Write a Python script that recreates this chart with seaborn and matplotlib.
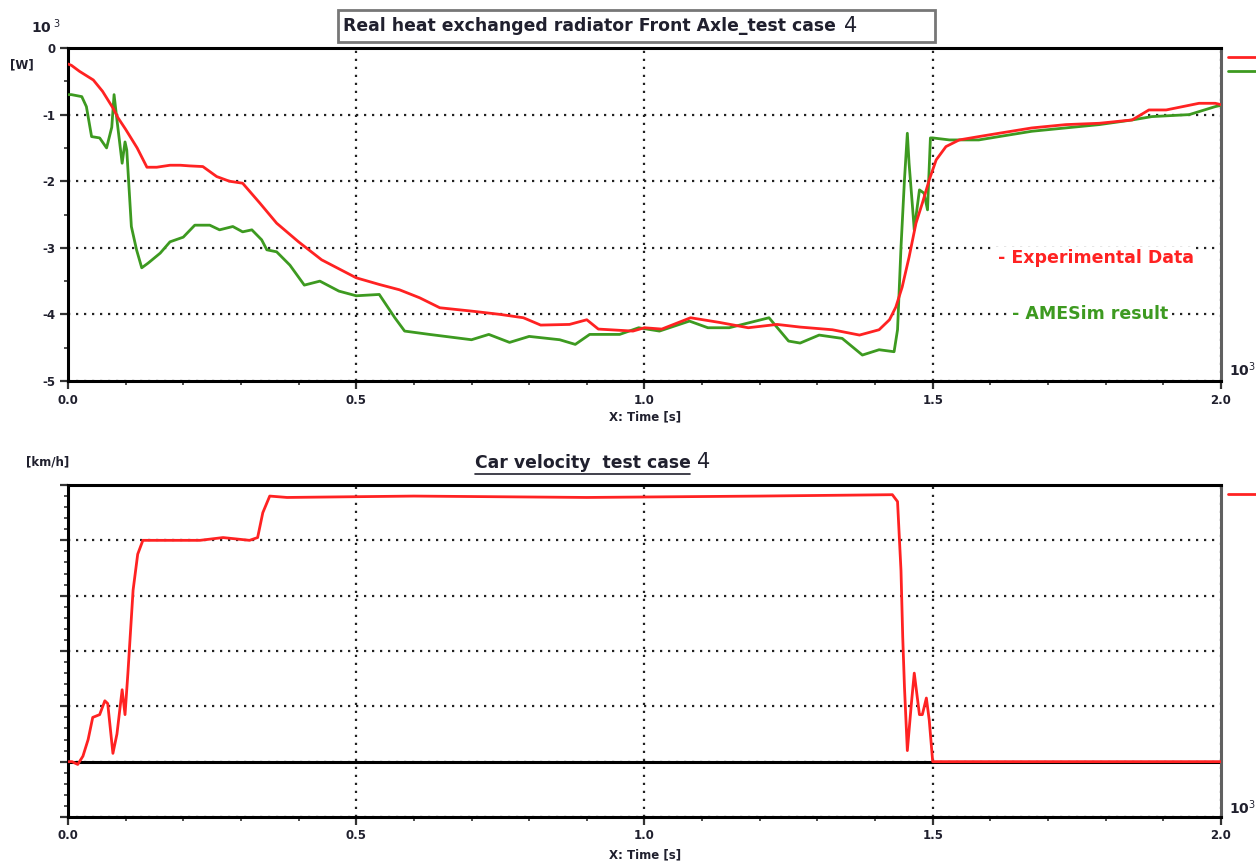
import pandas as pd
import matplotlib.pyplot as plt
from matplotlib.patches import Rectangle
from matplotlib.lines import Line2D
from matplotlib.ticker import MultipleLocator
import seaborn as sns

sns.set_style("white")
plt.rcParams["font.family"] = ["DejaVu Sans"]

# --- data: time in 10^3 s ---
red_t = [0, 0.006, 0.02, 0.044, 0.06, 0.078, 0.087, 0.1, 0.12, 0.137, 0.154, 0.177, 0.195, 0.211,
         0.234, 0.258, 0.28, 0.303, 0.333, 0.362, 0.4, 0.44, 0.5, 0.54, 0.575, 0.61, 0.645, 0.7,
         0.75, 0.79, 0.82, 0.87, 0.9, 0.92, 0.98, 1.0, 1.03, 1.08, 1.13, 1.18, 1.23, 1.27, 1.326,
         1.373, 1.407, 1.425, 1.436, 1.447, 1.459, 1.471, 1.482, 1.494, 1.506, 1.523, 1.546, 1.58,
         1.615, 1.672, 1.731, 1.789, 1.846, 1.875, 1.905, 1.962, 1.99, 2.0]
red_v = [-0.24, -0.26, -0.35, -0.48, -0.65, -0.9, -1.05, -1.22, -1.5, -1.79, -1.79, -1.76, -1.76,
         -1.77, -1.78, -1.93, -2.0, -2.03, -2.33, -2.63, -2.91, -3.18, -3.45, -3.55, -3.63, -3.75,
         -3.9, -3.95, -4.0, -4.05, -4.16, -4.15, -4.08, -4.22, -4.25, -4.2, -4.22, -4.05, -4.12,
         -4.2, -4.15, -4.19, -4.23, -4.31, -4.23, -4.08, -3.89, -3.59, -3.14, -2.63, -2.33, -1.98,
         -1.68, -1.48, -1.38, -1.33, -1.28, -1.2, -1.15, -1.13, -1.08, -0.93, -0.93, -0.83, -0.83,
         -0.85]

green_t = [0, 0.006, 0.024, 0.032, 0.041, 0.055, 0.067, 0.076, 0.08, 0.085, 0.094, 0.099, 0.102,
           0.11, 0.119, 0.128, 0.139, 0.16, 0.177, 0.2, 0.22, 0.246, 0.263, 0.286, 0.303, 0.319,
           0.336, 0.345, 0.362, 0.385, 0.4, 0.41, 0.437, 0.47, 0.5, 0.54, 0.567, 0.584, 0.627,
           0.7, 0.73, 0.766, 0.8, 0.853, 0.88, 0.905, 0.957, 0.99, 1.026, 1.078, 1.11, 1.147,
           1.216, 1.25, 1.27, 1.303, 1.343, 1.378, 1.407, 1.433, 1.439, 1.445, 1.451, 1.456,
           1.459, 1.465, 1.468, 1.477, 1.485, 1.491, 1.496, 1.5, 1.529, 1.58, 1.615, 1.672,
           1.789, 1.846, 1.88, 1.945, 1.99, 2.0]
green_v = [-0.7, -0.7, -0.73, -0.88, -1.33, -1.35, -1.5, -1.19, -0.7, -1.08, -1.73, -1.41, -1.53,
           -2.68, -3.03, -3.3, -3.23, -3.08, -2.91, -2.84, -2.66, -2.66, -2.73, -2.68, -2.76,
           -2.73, -2.88, -3.03, -3.06, -3.26, -3.44, -3.56, -3.5, -3.65, -3.72, -3.7, -4.05,
           -4.25, -4.3, -4.38, -4.3, -4.42, -4.33, -4.38, -4.45, -4.3, -4.3, -4.2, -4.25, -4.1,
           -4.2, -4.2, -4.05, -4.4, -4.43, -4.31, -4.36, -4.61, -4.53, -4.56, -4.23, -2.99,
           -1.98, -1.28, -1.73, -2.39, -2.73, -2.13, -2.18, -2.43, -1.35, -1.35, -1.38, -1.38,
           -1.33, -1.25, -1.15, -1.08, -1.03, -1.0, -0.88, -0.86]

vel_t = [0, 0.007, 0.017, 0.026, 0.035, 0.043, 0.055, 0.064, 0.069, 0.078, 0.085, 0.094, 0.099,
         0.104, 0.113, 0.121, 0.13, 0.154, 0.229, 0.269, 0.315, 0.329, 0.338, 0.35, 0.38, 0.6,
         0.9, 1.2, 1.43, 1.439, 1.445, 1.448, 1.451, 1.456, 1.463, 1.468, 1.477, 1.482, 1.489,
         1.494, 1.5, 2.0]
vel_v = [0, 0, -1, 2, 8, 16, 17, 22, 21, 3, 10, 26, 17, 32, 62, 75, 80, 80, 80, 81, 80, 81, 90,
         96, 95.5, 96, 95.5, 96, 96.5, 94, 69, 45, 27, 4, 21, 32, 17, 17, 23, 15, 0, 0]

x_ticks = [0.0, 0.5, 1.0, 1.5, 2.0]
heat_ticks = [-5, -4, -3, -2, -1, 0]
vel_ticks = [-20, 0, 20, 40, 60, 80, 100]

RED = "#ff2222"
GREEN = "#3d9a20"
TXT = "#20202e"

heat_exp = pd.DataFrame({"t": red_t, "q": red_v})
heat_sim = pd.DataFrame({"t": green_t, "q": green_v})
vel = pd.DataFrame({"t": vel_t, "v": vel_v})

fig = plt.figure(figsize=(12.56, 8.65), dpi=100)
ax1 = fig.add_axes([0.0541, 0.5595, 0.918, 0.385])
ax2 = fig.add_axes([0.0541, 0.0555, 0.918, 0.3838])


def style_axes(ax):
    for side in ["left", "bottom", "top"]:
        ax.spines[side].set_color("black")
        ax.spines[side].set_linewidth(2.2)
    ax.spines["right"].set_color("#606060")
    ax.spines["right"].set_linewidth(2.2)
    ax.set_xlim(0, 2.0)
    ax.set_xticks(x_ticks)
    ax.set_xticklabels([f"{v:.1f}" for v in x_ticks], fontweight="bold")
    ax.xaxis.set_minor_locator(MultipleLocator(0.1))
    ax.tick_params(which="major", direction="out", length=6, width=1.6, color="#333",
                   labelsize=8.5, labelcolor=TXT, pad=3)
    ax.tick_params(which="minor", direction="out", length=3, width=1.2, color="#333")
    ax.tick_params(axis="x", which="both", bottom=True, top=False)
    ax.tick_params(axis="y", which="both", left=True, right=False)
    ax.grid(True, which="major", color="#222", linestyle=(0, (1, 2.6)), linewidth=1.6)
    ax.set_xlabel("")
    ax.set_ylabel("")


# --- top: heat exchanged ---
sns.lineplot(data=heat_exp, x="t", y="q", ax=ax1, color=RED, linewidth=2, estimator=None,
             sort=False, zorder=4)
sns.lineplot(data=heat_sim, x="t", y="q", ax=ax1, color=GREEN, linewidth=2, estimator=None,
             sort=False, zorder=3)
style_axes(ax1)
ax1.set_ylim(-5, 0)
ax1.set_yticks(heat_ticks)
ax1.set_yticklabels([str(v) for v in heat_ticks], fontweight="bold")
ax1.yaxis.set_minor_locator(MultipleLocator(0.5))

ax1.text(1.783, -3.15, "- Experimental Data", color=RED, fontsize=12.5, fontweight="bold",
         ha="center", va="center", zorder=5,
         bbox=dict(facecolor="white", edgecolor="none", pad=1))
ax1.text(1.773, -3.99, "- AMESim result", color=GREEN, fontsize=12.5, fontweight="bold",
         ha="center", va="center", zorder=5,
         bbox=dict(facecolor="white", edgecolor="none", pad=1))

ax1.legend(handles=[Line2D([], [], color=RED, lw=2), Line2D([], [], color=GREEN, lw=2)],
           labels=["", ""], loc="upper left", bbox_to_anchor=(1.006, 0.985), frameon=False,
           borderaxespad=0, borderpad=0, handlelength=3, labelspacing=0.35, fontsize=8)

# --- bottom: car velocity ---
ax2.axhline(0, color="black", linewidth=2.2, zorder=2)
sns.lineplot(data=vel, x="t", y="v", ax=ax2, color=RED, linewidth=2, estimator=None,
             sort=False, zorder=4)
style_axes(ax2)
ax2.set_ylim(-20, 100)
ax2.set_yticks(vel_ticks)
ax2.set_yticklabels([])
ax2.yaxis.set_minor_locator(MultipleLocator(4))
ax2.legend(handles=[Line2D([], [], color=RED, lw=2)], labels=[""], loc="upper left",
           bbox_to_anchor=(1.006, 0.985), frameon=False, borderaxespad=0, borderpad=0,
           handlelength=3, fontsize=8)

# --- figure texts ---
fig.add_artist(Rectangle((338 / 1256, 1 - 42 / 865), (935 - 338) / 1256, 32 / 865,
                         transform=fig.transFigure, facecolor="white", edgecolor="#777",
                         linewidth=2))
fig.text(343 / 1256, 1 - 26 / 865, "Real heat exchanged radiator Front Axle_test case",
         fontsize=12.4, fontweight="bold", color=TXT, ha="left", va="center")
fig.text(851 / 1256, 1 - 26 / 865, "4", fontsize=15, color=TXT, ha="center", va="center")

fig.text(475 / 1256, 1 - 463 / 865, "Car velocity  test case", fontsize=12.4, fontweight="bold",
         color=TXT, ha="left", va="center")
fig.add_artist(Line2D([475 / 1256, 690 / 1256], [1 - 474 / 865, 1 - 474 / 865],
                      transform=fig.transFigure, color=TXT, linewidth=1.2))
fig.text(704 / 1256, 1 - 462 / 865, "4", fontsize=15, color=TXT, ha="center", va="center")

small = dict(fontsize=8.5, fontweight="bold", color=TXT, ha="center", va="center")
exp10 = dict(fontsize=10, fontweight="bold", color=TXT, ha="center", va="center")
fig.text(46 / 1256, 1 - 27 / 865, r"10$^{\ 3}$", **exp10)
fig.text(22 / 1256, 1 - 65 / 865, "[W]", **small)
fig.text(1242 / 1256, 1 - 370 / 865, r"10$^{3}$", **exp10)
fig.text(645 / 1256, 1 - 417 / 865, "X: Time [s]", **small)
fig.text(48 / 1256, 1 - 462 / 865, "[km/h]", **small)
fig.text(1242 / 1256, 1 - 808 / 865, r"10$^{3}$", **exp10)
fig.text(645 / 1256, 1 - 855 / 865, "X: Time [s]", **small)

fig.savefig("out.png", dpi=100)
plt.close(fig)
